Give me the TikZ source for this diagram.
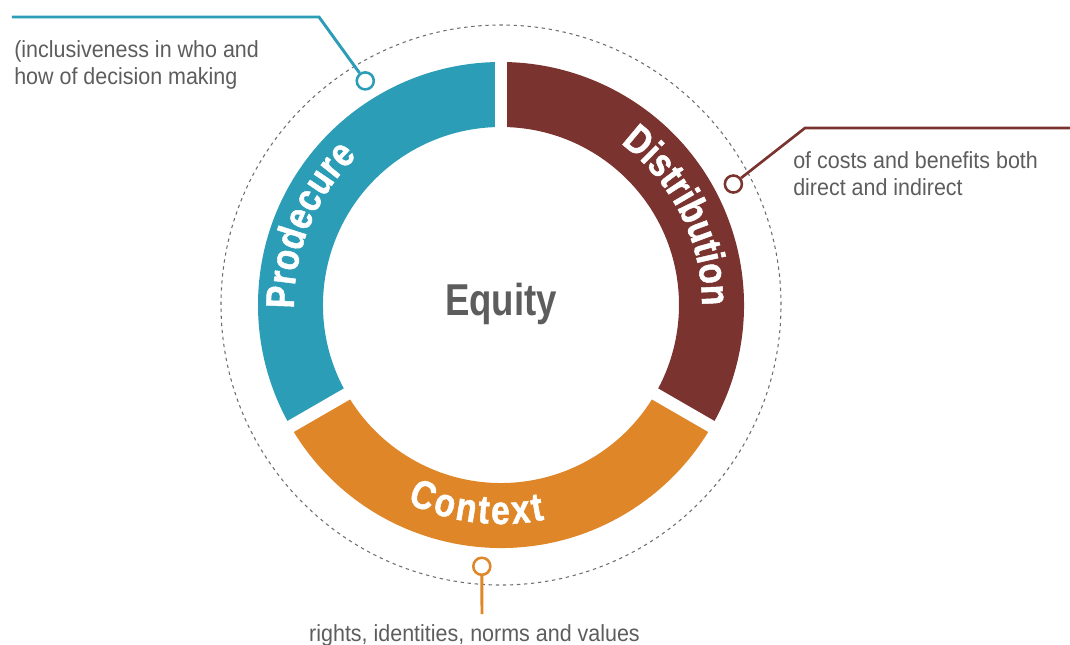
\documentclass[tikz,border=0pt]{standalone}
\usepackage{fontspec}
\setmainfont[FakeStretch=0.92]{Liberation Sans}
\newfontfamily\headfont[FakeStretch=0.82]{Liberation Sans}
\newfontfamily\ringfamily[FakeStretch=0.84, FakeBold=1.2]{Liberation Sans}
\usetikzlibrary{decorations.text}

\definecolor{procblue}{HTML}{2B9DB6}
\definecolor{distbrown}{HTML}{7A332E}
\definecolor{contorange}{HTML}{DF8628}
\definecolor{textgray}{HTML}{5D5D5D}
\definecolor{dashgray}{HTML}{6D6E70}

\newcommand\ringfont{\ringfamily\bfseries\fontsize{30}{30}\selectfont}

\begin{document}
\begin{tikzpicture}[x=0.75pt, y=0.75pt,
    dot/.style={circle, fill=white, line width=1.9pt, minimum size=12.8pt, inner sep=0pt},
    note/.style={text=textgray, font=\fontsize{17.5}{20.5}\selectfont, align=left, inner sep=0pt},
    ringlabel/.style={font=\ringfont, decorate, decoration={text along path, text align={fit to path}, text color=white,
        text={|\ringfont|#1}}}]

    \useasboundingbox (-501,-339) rectangle (569,305);

    % Dashed guide circle
    \draw[dashgray, line width=0.8pt, dash pattern=on 2.5pt off 2.8pt] (0,0) circle[radius=280];

    % Ring sectors
    \foreach \s/\e/\col in {90/210/procblue, 210/330/contorange, -30/90/distbrown} {
        \fill[\col] (\s:243) arc[start angle=\s, end angle=\e, radius=243]
            -- (\e:178) arc[start angle=\e, end angle=\s, radius=178] -- cycle;
    }

    % Gaps between the sectors
    \foreach \a in {90,210,330} {
        \draw[white, line width=9.4pt] (\a:170) -- (\a:250);
    }

    % Ring labels
    \path[ringlabel=Prodecure] (181:207) arc[start angle=181, end angle=134, radius=207];
    \path[ringlabel=Distribution] (53.5:201) arc[start angle=53.5, end angle=2.5, radius=201];
    \path[ringlabel=Context] (244.6:219) arc[start angle=244.6, end angle=281.5, radius=219];

    % Centre label
    \node[text=textgray, font=\headfont\bfseries\fontsize{33.5}{33.5}\selectfont, anchor=base] (equity) at (0,-10) {Equity};

    % Callout dots
    \node[dot, draw=procblue] (procdot) at (121.2:262) {};
    \node[dot, draw=distbrown] (distdot) at (27.5:262) {};
    \node[dot, draw=contorange] (contdot) at (265.8:262) {};

    % Callout leaders
    \coordinate (procbend) at (-182,288);
    \coordinate (procend) at (-489,288);
    \draw[procblue, line width=2.2pt] (procdot) -- (procbend) -- (procend);
    \coordinate (distbend) at (304,177);
    \coordinate (distend) at (569,177);
    \draw[distbrown, line width=2pt] (distdot) -- (distbend) -- (distend);
    \coordinate (contend) at (-19,-309);
    \draw[contorange, line width=2.2pt] (contdot) -- (contend);

    % Callout texts
    \node[note, anchor=north west] (proctext) at (-487,265) {(inclusiveness in who and\\how of decision making};
    \node[note, anchor=north west] (disttext) at (292,154) {of costs and benefits both\\direct and indirect};
    \node[note, anchor=base] (conttext) at (-26.5,-336) {rights, identities, norms and values};

\end{tikzpicture}
\end{document}
